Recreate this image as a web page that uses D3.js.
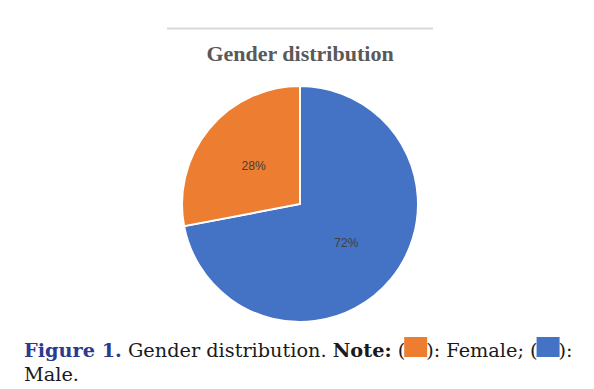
<!DOCTYPE html>
<html>
<head>
<meta charset="utf-8">
<script src="https://cdn.jsdelivr.net/npm/d3@7"></script>
<style>
  body { margin: 0; background: #fff; }
</style>
</head>
<body>
<div id="chart"></div>
<script>
// Data
const labels = ["Male", "Female"];
const values = [72, 28];
const colors = ["#4472c4", "#ed7d31"];

const W = 594, H = 389;
const svg = d3.select("#chart").append("svg")
  .attr("width", W)
  .attr("height", H);

// top rule + title
svg.append("line")
  .attr("x1", 167).attr("x2", 433)
  .attr("y1", 28.5).attr("y2", 28.5)
  .attr("stroke", "#d9d9d9")
  .attr("stroke-width", 2);

svg.append("text")
  .attr("x", 300).attr("y", 61)
  .attr("text-anchor", "middle")
  .style("font-family", "'Liberation Serif', serif")
  .style("font-weight", "bold")
  .style("font-size", "22px")
  .style("fill", "#595959")
  .text("Gender distribution");

// pie
const cx = 300, cy = 204, r = 118;
const pie = d3.pie().sort(null).value(d => d)(values);
const arc = d3.arc().innerRadius(0).outerRadius(r);
const labelArc = d3.arc().innerRadius(r * 0.51).outerRadius(r * 0.51);

const g = svg.append("g").attr("transform", `translate(${cx},${cy})`);

g.selectAll("path")
  .data(pie)
  .enter()
  .append("path")
  .attr("d", arc)
  .attr("fill", (d, i) => colors[i])
  .attr("stroke", "#fff")
  .attr("stroke-width", 2);

g.selectAll(".label")
  .data(pie)
  .enter()
  .append("text")
  .attr("class", "label")
  .attr("transform", d => `translate(${labelArc.centroid(d)})`)
  .attr("text-anchor", "middle")
  .attr("dy", "0.35em")
  .style("font-family", "'Liberation Sans', Arial, sans-serif")
  .style("font-size", "12px")
  .style("fill", "#404040")
  .text(d => d.data + "%");

// caption with swatches
const capFont = "'DejaVu Serif', serif";
const capSize = "19.3px";
const parts = [
  { t: "Figure 1.", w: "bold", c: "#2b3a8c" },
  { t: " Gender distribution. ", w: "normal", c: "#1a1a1a" },
  { t: "Note:", w: "bold", c: "#1a1a1a" },
  { t: " (", w: "normal", c: "#1a1a1a", sw: 1 },
  { t: "): Female; (", w: "normal", c: "#1a1a1a", sw: 0 },
  { t: "):", w: "normal", c: "#1a1a1a" }
];

const swW = 23, swH = 20;
let x = 24;
parts.forEach(p => {
  const t = svg.append("text")
    .attr("x", x).attr("y", 357)
    .style("font-family", capFont)
    .style("font-size", capSize)
    .style("font-weight", p.w)
    .style("fill", p.c)
    .style("white-space", "pre")
    .text(p.t);
  x += t.node().getComputedTextLength();
  if (p.sw !== undefined) {
    x -= 1;
    svg.append("rect")
      .attr("x", x).attr("y", 337)
      .attr("width", swW).attr("height", swH)
      .attr("fill", colors[p.sw]);
    x += swW - 1;
  }
});

svg.append("text")
  .attr("x", 24).attr("y", 381)
  .style("font-family", capFont)
  .style("font-size", capSize)
  .style("fill", "#1a1a1a")
  .text("Male.");
</script>
</body>
</html>
